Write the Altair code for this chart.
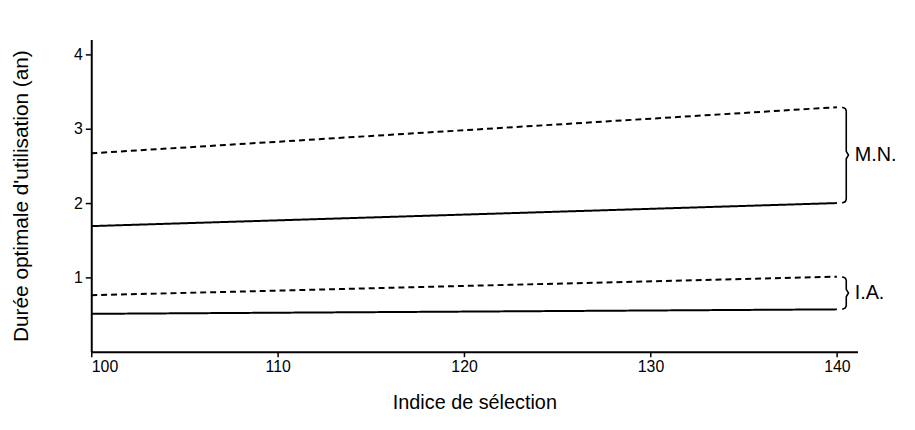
import altair as alt
import pandas as pd

# Data
x_vals = [100, 140]
mn_dashed = [2.67, 3.29]
mn_solid = [1.69, 2.00]
ia_dashed = [0.76, 1.01]
ia_solid = [0.51, 0.57]

x_ticks = [100, 110, 120, 130, 140]
y_ticks = [1, 2, 3, 4]
groups = ["M.N.", "I.A."]

rows = []
for name, vals, dash in [("mn_d", mn_dashed, "dashed"), ("mn_s", mn_solid, "solid"),
                         ("ia_d", ia_dashed, "dashed"), ("ia_s", ia_solid, "solid")]:
    for xv, yv in zip(x_vals, vals):
        rows.append({"serie": name, "x": xv, "y": yv, "style": dash})
df = pd.DataFrame(rows)

# Braces built from end values of each group
brace_rows = []
lab_rows = []
for g, top_s, bot_s in [("M.N.", mn_dashed, mn_solid), ("I.A.", ia_dashed, ia_solid)]:
    T, B = top_s[-1], bot_s[-1]
    M = (T + B) / 2
    e = 0.05
    pts = [(140.28, T), (140.45, T - 0.02), (140.5, T - e), (140.5, M + e), (140.62, M),
           (140.5, M - e), (140.5, B + e), (140.45, B + 0.02), (140.28, B)]
    for i, (bx, by) in enumerate(pts):
        brace_rows.append({"g": g, "x": bx, "y": by, "o": i})
    lab_rows.append({"g": g, "x": 140.95, "y": M})
brace = pd.DataFrame(brace_rows)
labs = pd.DataFrame(lab_rows)

xs = alt.Scale(domain=[100, 141.1], nice=False)
ys = alt.Scale(domain=[0, 4.2], nice=False)

base = alt.Chart(df)
lines = base.mark_line(color="black", strokeWidth=2, clip=False).encode(
    x=alt.X("x:Q", scale=xs,
            axis=alt.Axis(values=x_ticks, title="Indice de sélection", titlePadding=18,
                          titleFontSize=20, titleFontWeight="normal", labelFontSize=16,
                          tickSize=5, labelPadding=2, format="d")),
    y=alt.Y("y:Q", scale=ys,
            axis=alt.Axis(values=y_ticks, title="Durée optimale d'utilisation (an)",
                          titlePadding=42, titleFontSize=21, titleFontWeight="normal",
                          labelFontSize=16, tickSize=6, labelPadding=3, format="d")),
    detail="serie:N",
    strokeDash=alt.StrokeDash("style:N",
                              scale=alt.Scale(domain=["solid", "dashed"], range=[[1, 0], [6, 4]]),
                              legend=None),
)

braces = alt.Chart(brace).mark_line(color="black", strokeWidth=1.6, clip=False,
                                    interpolate="linear").encode(
    x=alt.X("x:Q", scale=xs), y=alt.Y("y:Q", scale=ys), detail="g:N", order="o:Q")

labels = alt.Chart(labs).mark_text(align="left", baseline="middle", fontSize=20,
                                   font="Liberation Sans", color="black").encode(
    x=alt.X("x:Q", scale=xs), y=alt.Y("y:Q", scale=ys), text="g:N")

chart = alt.layer(lines, braces, labels).properties(
    width=773, height=315,
    autosize=alt.AutoSizeParams(type="none"),
    padding={"left": 84, "top": 30, "right": 50, "bottom": 60},
).configure_view(stroke=None).configure_axis(
    grid=False, domainColor="black", domainWidth=2, tickColor="black", tickWidth=1.5,
    labelColor="black", titleColor="black", labelFont="Liberation Sans",
    titleFont="Liberation Sans",
)

chart.save("out.html", embed_options={"renderer": "svg", "actions": False})
